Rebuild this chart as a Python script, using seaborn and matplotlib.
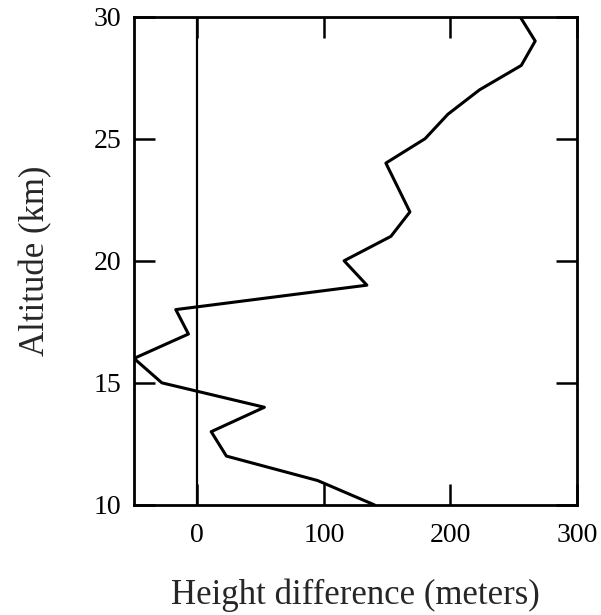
import matplotlib
matplotlib.use("Agg")
import matplotlib.pyplot as plt
import seaborn as sns
import pandas as pd

# Height difference profile against altitude
altitude_km = [10, 11, 12, 13, 14, 15, 16, 17, 18, 19, 20, 21, 22, 24, 25, 26, 27, 28, 29, 30]
height_diff_m = [140, 95, 23, 11, 53, -28, -50, -7, -17, 134, 116, 153, 168, 149, 180, 198, 223, 256, 267, 255]

x_ticks = [0, 100, 200, 300]
y_ticks = [10, 15, 20, 25, 30]

sns.set_theme(style="ticks")
plt.rcParams["font.family"] = ["Liberation Serif", "DejaVu Serif"]

df = pd.DataFrame({"diff": height_diff_m, "alt": altitude_km})

fig = plt.figure(figsize=(6.01, 6.15), dpi=100)
ax = fig.add_axes([0.223, 0.179, 0.737, 0.794])

ax.axvline(0, color="black", lw=1.6, zorder=1)
sns.lineplot(data=df, x="diff", y="alt", sort=False, orient="y",
             color="black", lw=2.2, ax=ax, clip_on=True, zorder=2)

ax.set_xlim(-50, 300)
ax.set_ylim(10, 30)
ax.set_xticks(x_ticks)
ax.set_yticks(y_ticks)
ax.tick_params(direction="in", length=15, width=1.8, top=True, right=True,
               labelsize=20, colors="black", pad=9)
ax.tick_params(axis="x", pad=13)
for s in ax.spines.values():
    s.set_linewidth(2.0)
    s.set_color("black")

ax.set_xlabel("Height difference (meters)", fontsize=25, labelpad=22)
ax.set_ylabel("Altitude (km)", fontsize=25, labelpad=30)

fig.savefig("out.png", dpi=100)
